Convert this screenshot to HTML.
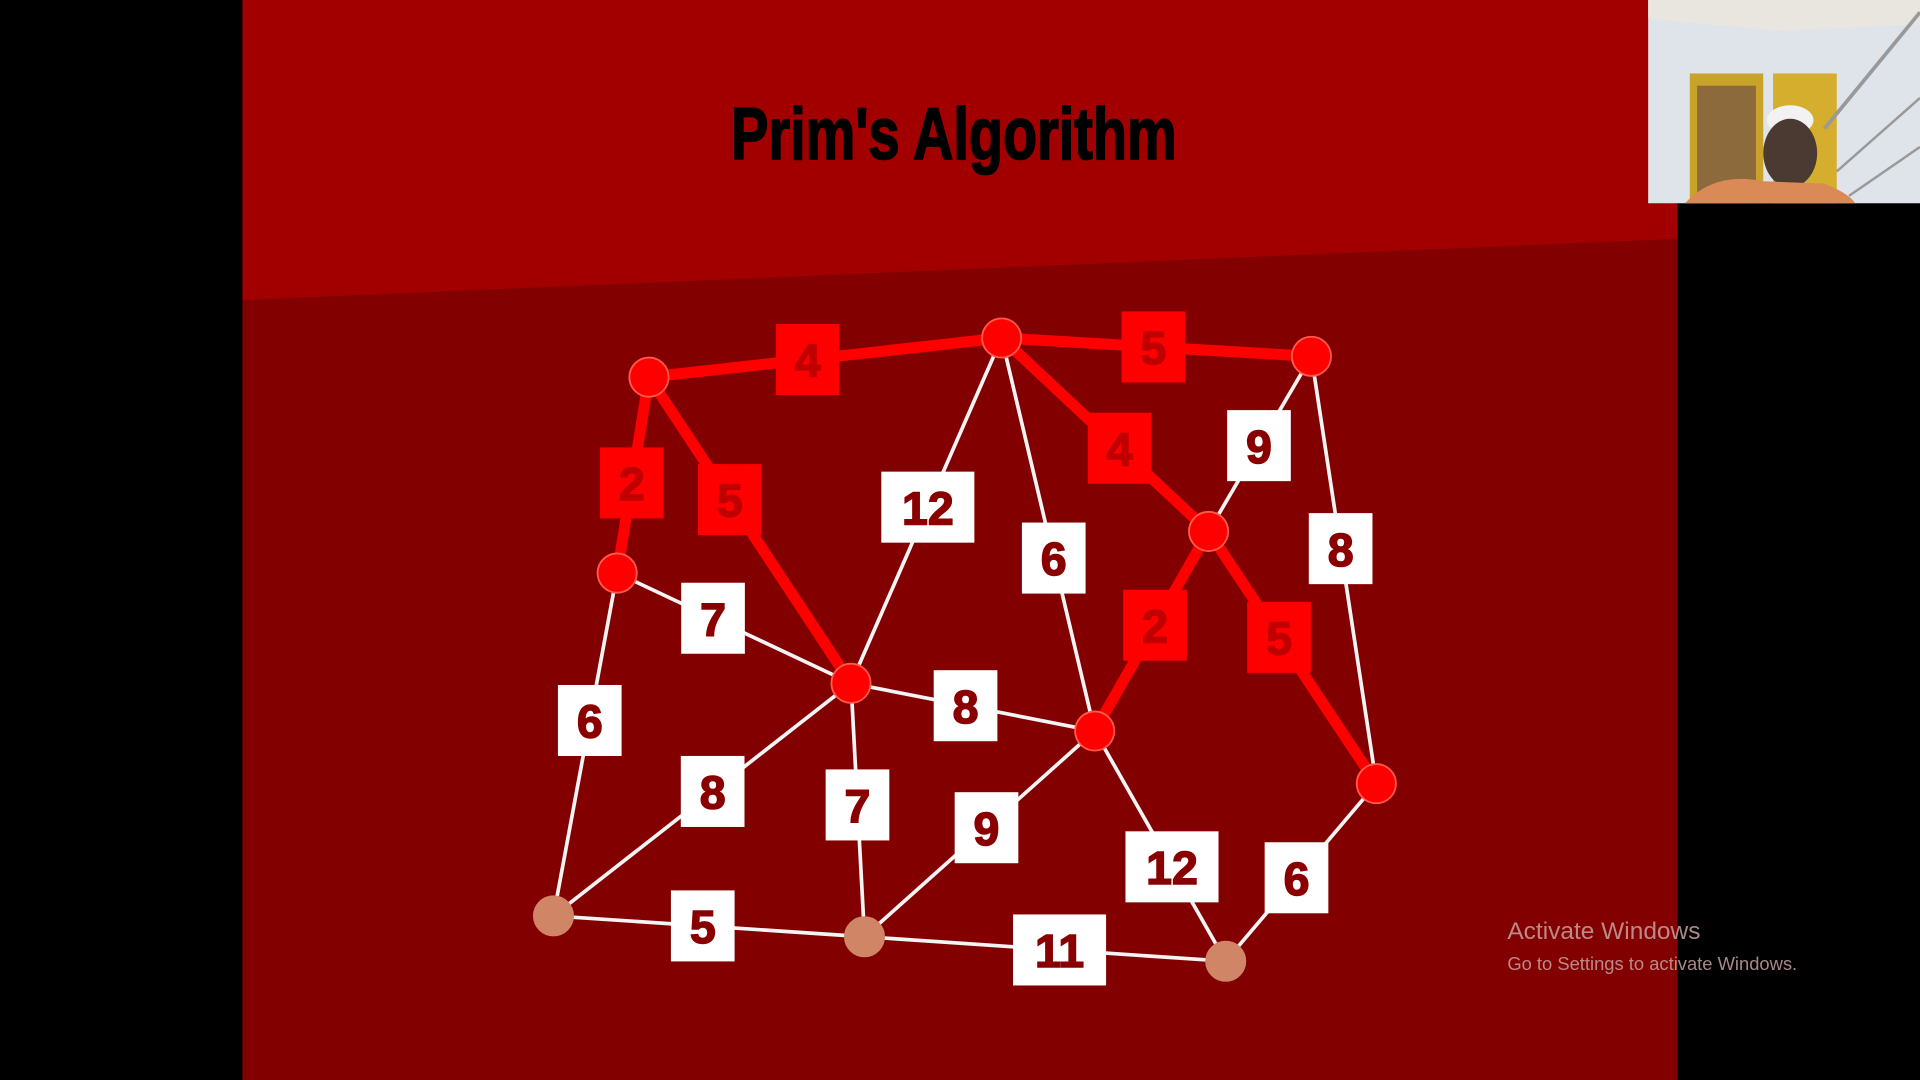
<!DOCTYPE html>
<html><head><meta charset="utf-8"><style>
html,body{margin:0;padding:0;background:#000;width:1920px;height:1080px;overflow:hidden}
svg{display:block}
</style></head><body>
<svg width="1920" height="1080" viewBox="0 0 1568 882">
<rect x="0" y="0" width="1568" height="882" fill="#000"/>
<rect x="198" y="0" width="1172" height="882" fill="#830000"/>
<polygon points="198,0 1370,0 1370,195 198,245" fill="#a20000"/>
<text x="779" y="130" text-anchor="middle" font-family="Liberation Sans, sans-serif" font-weight="bold" font-size="60" fill="#000" stroke="#000" stroke-width="1.5" transform="translate(779 0) scale(0.76 1) translate(-779 0)">Prim's Algorithm</text>
<g>
<rect x="1346" y="0" width="222" height="166" fill="#dfe3ea"/>
<polygon points="1346,0 1568,0 1568,20 1450,25 1346,15" fill="#e9e6e0"/>
<rect x="1380" y="60" width="60" height="106" fill="#c9a22a"/>
<rect x="1386" y="70" width="48" height="96" fill="#8c6a3c"/>
<rect x="1448" y="60" width="52" height="106" fill="#d4ae2c"/>
<line x1="1490" y1="105" x2="1568" y2="10" stroke="#999" stroke-width="3"/>
<line x1="1500" y1="140" x2="1568" y2="80" stroke="#999" stroke-width="2"/>
<line x1="1510" y1="160" x2="1568" y2="120" stroke="#999" stroke-width="2"/>
<ellipse cx="1462" cy="98" rx="19" ry="12" fill="#f2f2f2"/>
<ellipse cx="1462" cy="125" rx="22" ry="28" fill="#4a3a32"/>
<path d="M1376,166 Q1400,140 1440,148 L1490,150 Q1510,158 1515,166 Z" fill="#d98a56"/>
</g>
<g id="graph"></g>
<text x="1231" y="767" font-family="Liberation Sans, sans-serif" font-size="20" fill="#c8a0a0" opacity="0.85">Activate Windows</text>
<text x="1231" y="792" font-family="Liberation Sans, sans-serif" font-size="15" fill="#c8a0a0" opacity="0.85">Go to Settings to activate Windows.</text>
</svg>
<script>
const nodeNames = ["A","B","C","D","E","F","G","H","I","J","K"];
const nodeX = [530,818,1071,504,695,987,894,1124,452,706,1001];
const nodeY = [308,276,291,468,558,434,597,640,748,765,785];
const nodeInTree = [1,1,1,1,1,1,1,1,0,0,0];
const edgeFrom = ["A","B","A","A","B","F","F","B","B","C","C","D","D","E","E","E","G","G","H","I","J"];
const edgeTo =   ["B","C","D","E","F","G","H","E","G","F","H","E","I","G","I","J","J","K","K","J","K"];
const edgeWeights = [4,5,2,5,4,2,5,12,6,9,8,7,6,8,8,7,9,12,6,5,11];
const edgeSelected = [1,1,1,1,1,1,1,0,0,0,0,0,0,0,0,0,0,0,0,0,0];
const labelT = [0.45,0.49,0.54,0.40,0.57,0.47,0.42,0.49,0.56,0.51,0.45,0.41,0.43,0.47,0.465,0.48,0.47,0.59,0.53,0.48,0.54];

const NS="http://www.w3.org/2000/svg";
const g=document.getElementById('graph');
const idx=n=>nodeNames.indexOf(n);
const px=i=>nodeX[i], py=i=>nodeY[i];
function mk(t,a){const e=document.createElementNS(NS,t);for(const k in a)e.setAttribute(k,a[k]);return e;}
const order=[...edgeWeights.keys()].sort((a,b)=>edgeSelected[a]-edgeSelected[b]);
order.forEach(i=>{
  const a=idx(edgeFrom[i]),b=idx(edgeTo[i]);
  const l=mk('line',{x1:px(a),y1:py(a),x2:px(b),y2:py(b),stroke:edgeSelected[i]?'#ff0000':'#f4f4f4','stroke-width':edgeSelected[i]?9:3});
  
  
  g.appendChild(l);
});
nodeNames.forEach((n,i)=>{
  const c=mk('circle',{cx:px(i),cy:py(i),r:16,fill:nodeInTree[i]?'#ff0000':'#cf8566',stroke:nodeInTree[i]?'#ff5a4a':'#cf8566','stroke-width':1.5});
  
  
  g.appendChild(c);
});
edgeWeights.forEach((w,i)=>{
  const a=idx(edgeFrom[i]),b=idx(edgeTo[i]);
  const t=labelT[i];
  const cx=px(a)+(px(b)-px(a))*t, cy=py(a)+(py(b)-py(a))*t;
  const s=String(w), bw=s.length>1?76:52, bh=58;
  const grp=mk('g',{});
  
  
  grp.appendChild(mk('rect',{x:cx-bw/2,y:cy-bh/2,width:bw,height:bh,fill:edgeSelected[i]?'#ff0000':'#ffffff'}));
  const col=edgeSelected[i]?'#c00000':'#8a0000';
  const tx=mk('text',{x:cx,y:cy+14,'text-anchor':'middle','font-family':'Liberation Sans, sans-serif','font-weight':'bold','font-size':38,fill:col,stroke:col,'stroke-width':1.2});
  tx.textContent=s;
  grp.appendChild(tx);
  g.appendChild(grp);
});
</script>
</body></html>
